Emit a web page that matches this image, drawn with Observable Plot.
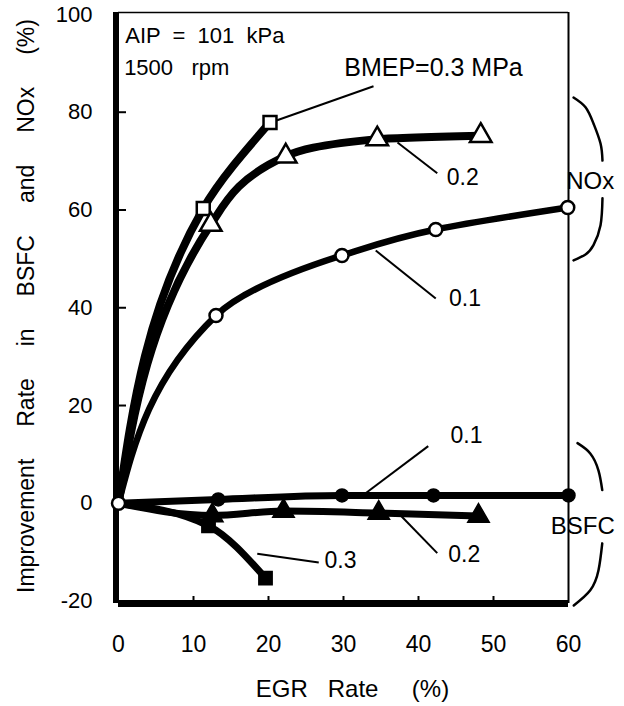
<!DOCTYPE html>
<html><head><meta charset="utf-8">
<script src="https://cdn.jsdelivr.net/npm/d3@7"></script>
<script src="https://cdn.jsdelivr.net/npm/@observablehq/plot@0.6"></script>
<style>
html,body{margin:0;padding:0;background:#fff;}
svg text{white-space:pre;}
</style></head><body><div id="chart"></div>
<script>
// ---- axes ----
const xTicks = [0, 10, 20, 30, 40, 50, 60];
const yTicks = [-20, 0, 20, 40, 60, 80, 100];
const xTickMarks = [10, 20, 30, 40, 50];
const yTickMarks = [20, 40, 60, 80];
const xTitle = "EGR   Rate     (%)";
const yTitle = "Improvement     Rate     in     BSFC     and     NOx     (%)";

// ---- NOx improvement (open markers) ----
const egrNox03 = [0, 11.3, 20.2];
const nox03    = [0, 60.3, 77.9];
const egrNox02 = [0, 12.3, 22.3, 34.5, 48.3];
const nox02    = [0, 57.0, 71.0, 74.5, 75.2];
const egrNox01 = [0, 13.0, 29.8, 42.3, 59.9];
const nox01    = [0, 38.4, 50.7, 56.0, 60.5];

// ---- BSFC improvement (filled markers) ----
const egrBsfc01 = [0, 13.3, 29.8, 42.0, 60.0];
const bsfc01    = [0, 0.8, 1.6, 1.6, 1.6];
const egrBsfc02 = [0, 12.5, 22.0, 34.7, 48.0];
const bsfc02    = [0, -2.5, -1.6, -2.0, -2.6];
const egrBsfc03 = [0, 12.0, 19.6];
const bsfc03    = [0, -4.6, -15.3];

// ---- annotations (data units) ----
const noteTexts = ["AIP  =  101  kPa", "1500   rpm"];
const noteX = [0.9, 0.75];
const noteY = [95.5, 89.0];
const bmepLabel = "BMEP=0.3 MPa";
const bmepLabelX = 42.0, bmepLabelY = 89.0;
const loadLabels = ["0.2", "0.1", "0.1", "0.2", "0.3"];
const loadLabelX = [45.9, 46.2, 46.4, 46.1, 29.6];
const loadLabelY = [66.6, 41.8, 13.9, -10.6, -11.7];
const leaderX1 = [20.3, 37.2, 34.3, 32.9, 37.3, 18.5];
const leaderY1 = [77.9, 73.8, 51.7, 2.0, -2.0, -10.3];
const leaderX2 = [34.0, 42.5, 42.3, 41.3, 42.5, 26.7];
const leaderY2 = [85.3, 67.5, 41.9, 11.7, -10.2, -12.1];
const groupLabels = ["NOx", "BSFC"];
const groupLabelX = [62.9, 61.9];
const groupLabelY = [65.8, -4.7];
// bracket strokes: [id, x, y]
const bracketId = ["a","a","a","a","a","b","b","b","b","b","c","c","c","c","d","d","d","d"];
const bracketX = [60.67, 62.27, 63.33, 64.27, 64.53, 64.53, 64.27, 63.33, 62.27, 60.67, 61.2, 62.9, 64.0, 64.5, 64.5, 64.0, 62.9, 60.7];
const bracketY = [83.0, 81.0, 77.7, 73.6, 70.1, 62.4, 56.9, 52.8, 50.9, 49.7, 12.3, 10.2, 6.7, 2.7, -8.2, -13.7, -17.8, -20.9];

const rows = (xs, ys) => xs.map((x, i) => ({x, y: ys[i]}));
const nox03R = rows(egrNox03, nox03), nox02R = rows(egrNox02, nox02), nox01R = rows(egrNox01, nox01);
const bsfc01R = rows(egrBsfc01, bsfc01), bsfc02R = rows(egrBsfc02, bsfc02), bsfc03R = rows(egrBsfc03, bsfc03);
const notOrigin = (d, i) => i > 0;
const leaders = leaderX1.map((x1, i) => ({x1, y1: leaderY1[i], x2: leaderX2[i], y2: leaderY2[i]}));
const brackets = bracketX.map((x, i) => ({id: bracketId[i], x, y: bracketY[i]}));
const loadL = loadLabels.map((t, i) => ({t, x: loadLabelX[i], y: loadLabelY[i]}));
const groupL = groupLabels.map((t, i) => ({t, x: groupLabelX[i], y: groupLabelY[i]}));
const notes = noteTexts.map((t, i) => ({t, x: noteX[i], y: noteY[i]}));

const FONT = "'Liberation Sans', Arial, Helvetica, sans-serif";
const lineOpts = {x: "x", y: "y", curve: "monotone-x", stroke: "black", strokeLinecap: "round", strokeLinejoin: "round"};
const noxLineOpts = {...lineOpts, curve: "monotone-y"};

const chart = Plot.plot({
  width: 624, height: 706,
  marginLeft: 118, marginRight: 56, marginTop: 12, marginBottom: 103,
  style: {fontFamily: FONT, fontSize: "22px", color: "black", background: "white"},
  x: {domain: [0, 60]},
  y: {domain: [-20.5, 100.4]},
  marks: [
    // frame
    Plot.ruleY([100.4], {x1: 0, x2: 60, stroke: "black", strokeWidth: 1.5}),
    Plot.ruleX([60], {stroke: "black", strokeWidth: 2}),
    // tick marks (inward)
    Plot.axisY(yTickMarks, {tickSize: -8, tickFormat: () => "", label: null, strokeWidth: 2}),
    Plot.axisX(xTickMarks, {tickSize: -7, tickFormat: () => "", label: null, strokeWidth: 2}),
    // tick labels
    Plot.axisY(yTicks, {tickSize: 0, tickPadding: 26, tickFormat: d => String(d), label: null, fontSize: 22}),
    Plot.axisX(xTicks, {tickSize: 0, tickPadding: 32, tickFormat: d => String(d), label: null, fontSize: 23}),
    // axis titles
    Plot.text([yTitle], {frameAnchor: "left", textAnchor: "middle", rotate: -90, dx: -92, dy: -2, fontSize: 23, text: d => d}),
    Plot.text([xTitle], {x: [18.3], frameAnchor: "bottom", dy: 93, textAnchor: "start", fontSize: 24, text: d => d}),
    // thick left and bottom axes
    Plot.ruleX([0], {dx: -2.5, stroke: "black", strokeWidth: 6}),
    Plot.ruleY([-20.5], {x1: 0, x2: 60, stroke: "black", strokeWidth: 7}),
    // leader lines and brackets
    Plot.link(leaders, {x1: "x1", y1: "y1", x2: "x2", y2: "y2", stroke: "black", strokeWidth: 2}),
    Plot.line(brackets, {x: "x", y: "y", z: "id", curve: "natural", stroke: "black", strokeWidth: 2.5}),
    // BSFC lines
    Plot.line(bsfc03R, {...lineOpts, strokeWidth: 7}),
    Plot.line(bsfc02R, {...lineOpts, strokeWidth: 7}),
    Plot.line(bsfc01R, {...lineOpts, strokeWidth: 7}),
    // NOx lines
    Plot.line(nox03R, {...noxLineOpts, strokeWidth: 8}),
    Plot.line(nox02R, {...noxLineOpts, strokeWidth: 8}),
    Plot.line(nox01R, {...noxLineOpts, strokeWidth: 6.5}),
    // BSFC markers (filled)
    Plot.dot(bsfc03R, {x: "x", y: "y", filter: notOrigin, symbol: "square", r: 7.5, fill: "black", stroke: "black"}),
    Plot.dot(bsfc02R, {x: "x", y: "y", filter: notOrigin, symbol: "triangle", r: 8, fill: "black", stroke: "black"}),
    Plot.dot(bsfc01R, {x: "x", y: "y", filter: notOrigin, symbol: "circle", r: 6.5, fill: "black", stroke: "black"}),
    // NOx markers (open)
    Plot.dot(nox03R, {x: "x", y: "y", filter: notOrigin, symbol: "square", r: 7.3, fill: "white", stroke: "black", strokeWidth: 2.5}),
    Plot.dot(nox02R, {x: "x", y: "y", filter: notOrigin, symbol: "triangle", r: 8, fill: "white", stroke: "black", strokeWidth: 2.5}),
    Plot.dot(nox01R, {x: "x", y: "y", symbol: "circle", r: 6.5, fill: "white", stroke: "black", strokeWidth: 2.5}),
    // text annotations
    Plot.text(notes, {x: "x", y: "y", text: "t", textAnchor: "start", fontSize: 22}),
    Plot.text([bmepLabel], {x: [bmepLabelX], y: [bmepLabelY], text: d => d, fontSize: 25}),
    Plot.text(loadL, {x: "x", y: "y", text: "t", fontSize: 23}),
    Plot.text(groupL, {x: "x", y: "y", text: "t", fontSize: 24})
  ]
});
document.getElementById("chart").appendChild(chart);
</script>
</body></html>
